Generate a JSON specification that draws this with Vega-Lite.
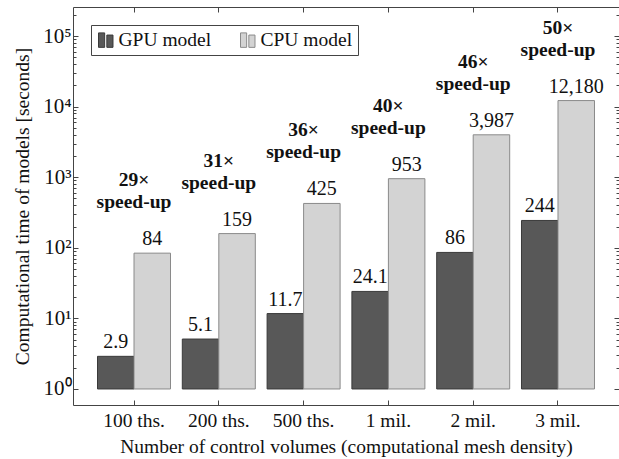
{
  "$schema": "https://vega.github.io/schema/vega-lite/v6.json",
  "width": 546,
  "height": 398,
  "autosize": {"type": "none"},
  "padding": {"left": 73, "top": 7, "right": 0, "bottom": 54},
  "background": "white",
  "config": {
    "font": "Liberation Serif",
    "view": {"stroke": "#444", "strokeWidth": 1},
    "axis": {
      "domain": false,
      "grid": false,
      "tickColor": "#444",
      "tickWidth": 1,
      "labelColor": "#111",
      "titleColor": "#111",
      "labelFont": "Liberation Serif",
      "titleFont": "Liberation Serif",
      "labelFontSize": 19.5,
      "titleFontSize": 19.5,
      "titleFontWeight": "normal"
    },
    "legend": {"labelFont": "Liberation Serif"}
  },
  "datasets": {
    "times": [
      {"group": "100 ths.", "model": "GPU model", "time": 2.9},
      {"group": "100 ths.", "model": "CPU model", "time": 84},
      {"group": "200 ths.", "model": "GPU model", "time": 5.1},
      {"group": "200 ths.", "model": "CPU model", "time": 159},
      {"group": "500 ths.", "model": "GPU model", "time": 11.7},
      {"group": "500 ths.", "model": "CPU model", "time": 425},
      {"group": "1 mil.", "model": "GPU model", "time": 24.1},
      {"group": "1 mil.", "model": "CPU model", "time": 953},
      {"group": "2 mil.", "model": "GPU model", "time": 86},
      {"group": "2 mil.", "model": "CPU model", "time": 3987},
      {"group": "3 mil.", "model": "GPU model", "time": 244},
      {"group": "3 mil.", "model": "CPU model", "time": 12180}
    ],
    "speedups": [
      {"group": "100 ths.", "speedup": "29×\nspeed-up"},
      {"group": "200 ths.", "speedup": "31×\nspeed-up"},
      {"group": "500 ths.", "speedup": "36×\nspeed-up"},
      {"group": "1 mil.", "speedup": "40×\nspeed-up"},
      {"group": "2 mil.", "speedup": "46×\nspeed-up"},
      {"group": "3 mil.", "speedup": "50×\nspeed-up"}
    ]
  },
  "data": {"name": "times"},
  "resolve": {"axis": {"x": "independent", "y": "independent"}},
  "layer": [
    {
      "mark": {"type": "bar", "strokeWidth": 1},
      "encoding": {
        "x": {
          "field": "group", "type": "nominal",
          "scale": {"domain": ["100 ths.", "200 ths.", "500 ths.", "1 mil.", "2 mil.", "3 mil."], "paddingInner": 0.139, "paddingOuter": 0.289},
          "axis": {"orient": "bottom", "labelAngle": 0, "tickSize": -5, "labelPadding": 11, "title": "Number of control volumes (computational mesh density)", "titlePadding": 8}
        },
        "xOffset": {"field": "model", "type": "nominal", "sort": ["GPU model", "CPU model"], "scale": {"paddingInner": 0, "paddingOuter": 0}},
        "y": {
          "field": "time", "type": "quantitative",
          "scale": {"type": "log", "domain": [0.593, 257800], "nice": false},
          "axis": {
            "orient": "left",
            "values": [1,2,3,4,5,6,7,8,9,10,20,30,40,50,60,70,80,90,100,200,300,400,500,600,700,800,900,1000,2000,3000,4000,5000,6000,7000,8000,9000,10000,20000,30000,40000,50000,60000,70000,80000,90000,100000,200000],
            "labelExpr": "abs(log(datum.value)/LN10 - round(log(datum.value)/LN10)) < 0.001 ? '10' + ['⁰','¹','²','³','⁴','⁵'][round(log(datum.value)/LN10)] : ''",
            "tickSize": {"condition": {"test": "abs(log(datum.value)/LN10 - round(log(datum.value)/LN10)) < 0.001", "value": -5}, "value": -3},
            "labelPadding": 7,
            "labelFontSize": 21,
            "labelOverlap": false,
            "labelFlush": false,
            "labelBound": false,
            "title": "Computational time of models [seconds]",
            "titlePadding": 10
          }
        },
        "y2": {"datum": 1},
        "color": {
          "field": "model", "type": "nominal",
          "scale": {"domain": ["GPU model", "CPU model"], "range": ["#585858", "#d3d3d3"]},
          "legend": {
            "orient": "top-left", "offset": 18, "direction": "horizontal", "title": null,
            "strokeColor": "#444", "padding": 5, "labelFontSize": 19.5, "labelColor": "#111",
            "symbolType": "M-1,-1H-0.15V1H-1Z M0.15,-0.7H1V1H0.15Z", "symbolSize": 210,
            "columnPadding": 26, "labelOffset": 3, "symbolStrokeWidth": 1
          }
        },
        "stroke": {
          "field": "model", "type": "nominal",
          "scale": {"domain": ["GPU model", "CPU model"], "range": ["#3a3a3a", "#8a8a8a"]},
          "legend": {
            "orient": "top-left", "offset": 18, "direction": "horizontal", "title": null,
            "strokeColor": "#444", "padding": 5, "labelFontSize": 19.5, "labelColor": "#111",
            "symbolType": "M-1,-1H-0.15V1H-1Z M0.15,-0.7H1V1H0.15Z", "symbolSize": 210,
            "columnPadding": 26, "labelOffset": 3, "symbolStrokeWidth": 1
          }
        }
      }
    },
    {
      "mark": {"type": "text", "baseline": "alphabetic", "dy": -8, "fontSize": 20, "color": "#111"},
      "encoding": {
        "x": {
          "field": "group", "type": "nominal",
          "scale": {"domain": ["100 ths.", "200 ths.", "500 ths.", "1 mil.", "2 mil.", "3 mil."], "paddingInner": 0.139, "paddingOuter": 0.289},
          "axis": {"orient": "top", "labels": false, "tickSize": -5, "title": null}
        },
        "xOffset": {"field": "model", "type": "nominal", "sort": ["GPU model", "CPU model"], "scale": {"paddingInner": 0, "paddingOuter": 0}},
        "y": {
          "field": "time", "type": "quantitative",
          "scale": {"type": "log", "domain": [0.593, 257800], "nice": false},
          "axis": {
            "orient": "right",
            "values": [1,2,3,4,5,6,7,8,9,10,20,30,40,50,60,70,80,90,100,200,300,400,500,600,700,800,900,1000,2000,3000,4000,5000,6000,7000,8000,9000,10000,20000,30000,40000,50000,60000,70000,80000,90000,100000,200000],
            "labels": false,
            "tickSize": {"condition": {"test": "abs(log(datum.value)/LN10 - round(log(datum.value)/LN10)) < 0.001", "value": -5}, "value": -3},
            "title": null
          }
        },
        "text": {"field": "time", "type": "quantitative", "format": ",.4~r"}
      }
    },
    {
      "transform": [
        {"filter": "datum.model == 'CPU model'"},
        {"lookup": "group", "from": {"data": {"name": "speedups"}, "key": "group", "fields": ["speedup"]}}
      ],
      "mark": {"type": "text", "baseline": "bottom", "dy": -63, "fontSize": 19.5, "fontWeight": "bold", "lineBreak": "\n", "lineHeight": 22, "color": "#111"},
      "encoding": {
        "x": {
          "field": "group", "type": "nominal",
          "scale": {"domain": ["100 ths.", "200 ths.", "500 ths.", "1 mil.", "2 mil.", "3 mil."], "paddingInner": 0.139, "paddingOuter": 0.289},
          "axis": null
        },
        "y": {
          "field": "time", "type": "quantitative",
          "scale": {"type": "log", "domain": [0.593, 257800], "nice": false},
          "axis": null
        },
        "text": {"field": "speedup", "type": "nominal"}
      }
    }
  ]
}
